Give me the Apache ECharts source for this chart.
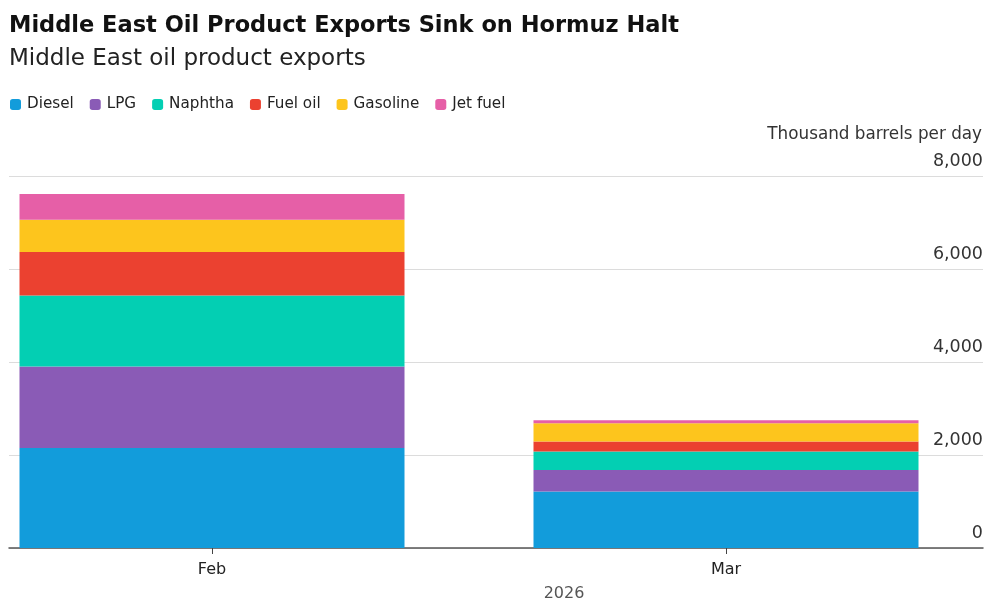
<!DOCTYPE html>
<html>
<head>
<meta charset="utf-8">
<script src="https://cdn.jsdelivr.net/npm/echarts@6/dist/echarts.min.js"></script>
<style>
html,body{margin:0;padding:0;background:#fff;}
#chart{width:987px;height:603px;}
</style>
</head>
<body>
<div id="chart"></div>
<script>
const months = ['Feb', 'Mar'];
const yearLabel = '2026';
const unitLabel = 'Thousand barrels per day';
const seriesNames = ['Diesel', 'LPG', 'Naphtha', 'Fuel oil', 'Gasoline', 'Jet fuel'];
const diesel = [2150, 1215];
const lpg = [1755, 465];
const naphtha = [1525, 395];
const fuelOil = [935, 215];
const gasoline = [695, 395];
const jetFuel = [555, 60];
const yTicks = [0, 2000, 4000, 6000, 8000];

const colors = ['#129cdb', '#8a5bb6', '#03cfb3', '#eb4130', '#fdc51d', '#e65fa7'];
const values = [diesel, lpg, naphtha, fuelOil, gasoline, jetFuel];
const FONT = 'DejaVu Sans';

const chart = echarts.init(document.getElementById('chart'));
chart.setOption({
  animation: false,
  backgroundColor: '#ffffff',
  textStyle: { fontFamily: FONT },
  title: [
    { text: 'Middle East Oil Product Exports Sink on Hormuz Halt', left: 4, top: 10,
      textStyle: { fontFamily: FONT, fontSize: 22.5, fontWeight: 'bold', color: '#111' } },
    { text: 'Middle East oil product exports', left: 4, top: 43,
      textStyle: { fontFamily: FONT, fontSize: 23, fontWeight: 'normal', color: '#222' } },
    { text: unitLabel, right: 0, top: 121,
      textStyle: { fontFamily: FONT, fontSize: 16.8, fontWeight: 'normal', color: '#333' } }
  ],
  legend: {
    left: 5, top: 92, itemWidth: 11, itemHeight: 11, itemGap: 16, icon: 'roundRect',
    data: seriesNames,
    textStyle: { fontFamily: FONT, fontSize: 15.2, color: '#222', padding: [0, 0, 0, 1] }
  },
  grid: [
    { left: -45, right: 4, top: 176, bottom: 55, outerBoundsMode: 'none', containLabel: false },
    { left: 9, right: 4, top: 176, bottom: 55, outerBoundsMode: 'none', containLabel: false }
  ],
  xAxis: [
    { type: 'category', gridIndex: 0, data: months,
      axisLine: { show: false },
      axisTick: { show: true, alignWithLabel: true, length: 6, lineStyle: { color: '#444' } },
      axisLabel: { fontFamily: FONT, fontSize: 16, color: '#222', margin: 14 } },
    { type: 'value', gridIndex: 1, min: 0, max: 1,
      axisLine: { show: true, lineStyle: { color: '#555', width: 1.5 } },
      axisTick: { show: false }, axisLabel: { show: false }, splitLine: { show: false },
      name: yearLabel, nameLocation: 'middle', nameGap: 38,
      nameTextStyle: { fontFamily: FONT, fontSize: 16, color: '#555', padding: [0, 0, 0, 136] } }
  ],
  yAxis: [
    { type: 'value', gridIndex: 0, min: 0, max: 8000, interval: 2000, show: false },
    { type: 'value', gridIndex: 1, min: 0, max: 8000, interval: 2000, position: 'right',
      axisLine: { show: false }, axisTick: { show: false },
      splitLine: { show: true, lineStyle: { color: '#dcdcdc', width: 1 } },
      axisLabel: { inside: true, margin: 0, verticalAlign: 'bottom', padding: [0, 0, 6, 0],
        fontFamily: FONT, fontSize: 17.5, color: '#333',
        formatter: v => v.toLocaleString('en-US') } }
  ],
  series: seriesNames.map((n, i) => ({
    name: n, type: 'bar', stack: 'total', xAxisIndex: 0, yAxisIndex: 0,
    barWidth: 385, itemStyle: { color: colors[i] }, data: values[i]
  }))
});
</script>
</body>
</html>
